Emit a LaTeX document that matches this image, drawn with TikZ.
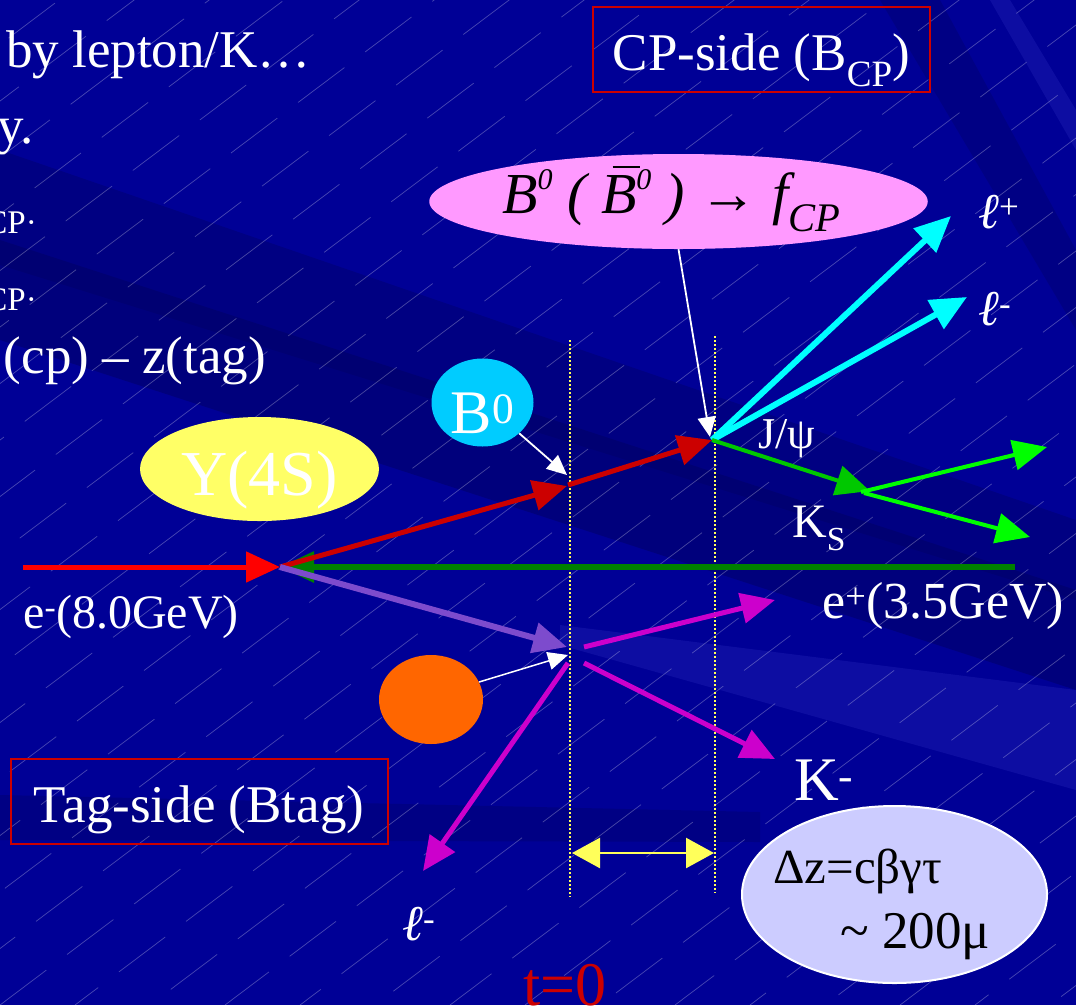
\documentclass[tikz,border=0pt]{standalone}
\usepackage{fontspec}
\setmainfont{Liberation Serif}
\definecolor{slidebg}{RGB}{0,0,150}
\definecolor{slidedark}{RGB}{0,0,100}
\definecolor{slidelight}{RGB}{45,45,190}
\definecolor{fcppink}{RGB}{255,153,255}
\definecolor{upsyel}{RGB}{255,255,102}
\definecolor{bzcyan}{RGB}{0,204,255}
\definecolor{tagorange}{RGB}{255,102,0}
\definecolor{dzlav}{RGB}{204,204,255}
\definecolor{trkred}{RGB}{204,0,0}
\definecolor{beamred}{RGB}{255,0,0}
\definecolor{beamgreen}{RGB}{0,128,0}
\definecolor{trkmag}{RGB}{204,0,204}
\definecolor{trkpur}{RGB}{125,75,205}
\definecolor{trkcyan}{RGB}{0,255,255}
\definecolor{trkgreen}{RGB}{0,200,0}
\definecolor{trklime}{RGB}{0,255,0}
\definecolor{dotyel}{RGB}{255,255,90}
\usetikzlibrary{arrows.meta,shapes.geometric,calc}
\newcommand{\fcpsup}{\raisebox{0.42em}{\fontsize{30}{30}\selectfont 0}}

\begin{document}
\begin{tikzpicture}[x=1pt,y=-1pt,
  lbl/.style={text=white,inner sep=0pt,font=\fontsize{53}{60}\selectfont},
  sidebox/.style={draw=trkred,line width=2pt,text=white,minimum height=85pt,
    text height=41pt,text depth=0pt,inner sep=0pt,font=\fontsize{53}{60}\selectfont},
  blob/.style={ellipse,inner sep=0pt,text depth=0pt},
  trk/.style={line width=5pt,-{Triangle[length=34pt,width=30pt]}},
  ptr/.style={draw=white,line width=1.8pt,-{Triangle[length=20pt,width=18pt]}},
  vdot/.style={draw=dotyel,line width=1.3pt,dash pattern=on 2pt off 2pt},
  hair/.style={draw=white,opacity=.28,line width=.7pt,dash pattern=on 58pt off 26pt}
]
\useasboundingbox (0,0) rectangle (1076,1005);
% background
\fill[slidebg] (0,0) rectangle (1076,1005);
\begin{scope}
  \clip (0,0) rectangle (1076,1005);
  \fill[slidedark,opacity=.4] (0,150) -- (1076,520) -- (1076,600) -- (0,265) -- cycle;
  \fill[slidedark,opacity=.5] (0,240) -- (1076,590) -- (1076,690) -- (0,340) -- cycle;
  \fill[slidedark,opacity=.35] (0,795) -- (760,812) -- (760,842) -- (0,840) -- cycle;
  \fill[slidedark,opacity=.35] (880,0) -- (940,0) -- (1076,250) -- (1076,330) -- cycle;
  \fill[slidelight,opacity=.3] (990,0) -- (1010,0) -- (1076,110) -- (1076,150) -- cycle;
  \fill[slidelight,opacity=.3] (560,625) -- (1076,690) -- (1076,790) -- (560,645) -- cycle;
  \foreach \k [evaluate=\k as \ph using {mod(abs(\k)*29,84)}] in {-19,...,15}
    \draw[hair,dash phase=\ph pt] (\k*75,1005) -- ++(1358,-1023);
\end{scope}

% left text lines
\node[lbl,anchor=base west] (ln1) at (6,67) {by lepton/K…};
\node[lbl,anchor=base east] (ln2) at (34,143) {y.};
\node[lbl,anchor=base east,font=\fontsize{33}{36}\selectfont] (ln3) at (37,233) {CP·};
\node[lbl,anchor=base east,font=\fontsize{33}{36}\selectfont] (ln4) at (37,310) {CP·};
\node[lbl,anchor=base east] (ln5) at (266,373) {(cp) – z(tag)};

% boxes
\node[sidebox,minimum width=337pt] (cpside) at (761.5,49.5) {CP-side (B\textsubscript{CP})};
\node[sidebox,minimum width=377pt] (tagside) at (199,801.5) {Tag-side (Btag)};

% blobs
\node[blob,fill=fcppink,minimum width=479pt,minimum height=95pt,text height=36pt,text depth=12pt,
  font=\fontsize{58}{62}\selectfont\itshape] (fcp) at (678.5,201.5)
  {B\fcpsup\ ( \makebox[0pt][l]{\hspace{0.2em}\rule[0.78em]{0.48em}{2pt}}B\fcpsup\ ) → f\textsubscript{CP}\hspace*{14pt}};
\node[blob,fill=upsyel,text=white,minimum width=239pt,minimum height=104pt,text height=52pt,
  font=\fontsize{64}{70}\selectfont] (ups) at (259.5,469) {Y(4S)};
\node[blob,fill=bzcyan,text=white,minimum width=102pt,minimum height=88pt,text height=61pt,
  font=\fontsize{62}{66}\selectfont] (bz) at (482.5,402.5) {B\textsuperscript{0}};
\node[blob,fill=tagorange,minimum width=104pt,minimum height=89pt] (btag) at (431,699.5) {};
\node[blob,fill=dzlav,draw=white,line width=2pt,minimum width=305pt,minimum height=177pt] (dz) at (894.5,894.5) {};
\node[anchor=base west,inner sep=0pt,font=\fontsize{49}{52}\selectfont] (dzt1) at (773,883) {Δz=cβγτ};
\node[anchor=base west,inner sep=0pt,font=\fontsize{53}{58}\selectfont] (dzt2) at (840,948) {\textasciitilde{} 200μ};

% vertices and track ends
\coordinate (ip) at (280,567);
\coordinate (vbz) at (568,485);
\coordinate (vcp) at (712,440);
\coordinate (vtag) at (569,650);
\coordinate (vks) at (870,491);
\coordinate (emin) at (23,567);
\coordinate (epin) at (1015,567);
\coordinate (lpend) at (951,216);
\coordinate (lmend) at (967,297);
\coordinate (pione) at (1047,447);
\coordinate (pitwo) at (1030,537);
\coordinate (tagone) at (775,600);
\coordinate (kend) at (775,759);
\coordinate (ltag) at (423,871);
\coordinate (dzl) at (572,853);
\coordinate (dzr) at (714,853);

% decay-time guides
\draw[vdot] (570,340) -- (570,897);
\draw[vdot] (715,336) -- (715,893);
\draw[draw=dotyel,line width=2.5pt,{Triangle[length=28pt,width=30pt]}-{Triangle[length=28pt,width=30pt]}] (dzl) -- (dzr);

% beams
\draw[trk,beamgreen,line width=6pt] (epin) -- (ip);
\draw[trk,beamred] (emin) -- (ip);
% B mesons
\draw[trk,trkred] (ip) -- ($(vbz)+(-1,1)$);
\draw[trk,trkred] (vbz) -- (vcp);
\draw[trk,trkpur,line width=6pt] (ip) -- ($(vtag)+(-2,-3)$);
% CP side
\draw[trk,trkcyan,line width=6pt,-{Triangle[length=36pt,width=32pt]}] (vcp) -- (lpend);
\draw[trk,trkcyan,line width=6pt,-{Triangle[length=36pt,width=32pt]}] (vcp) -- (lmend);
\draw[trk,trkgreen,line width=4pt] (vcp) -- (vks);
\draw[trk,trklime,line width=4pt] ($(vks)+(-9,1)$) -- (pione);
\draw[trk,trklime,line width=4pt] ($(vks)+(-6,2)$) -- (pitwo);
% tag side
\draw[trk,trkmag] ($(vtag)+(15,-3)$) -- (tagone);
\draw[trk,trkmag] ($(vtag)+(15,13)$) -- (kend);
\draw[trk,trkmag] ($(vtag)+(-1,13)$) -- (ltag);

% pointers
\draw[ptr] (fcp.south) -- ($(vcp)+(-2,-3)$);
\draw[ptr] (bz.-40) -- ($(vbz)+(-1,-10)$);
\draw[ptr,line width=1.5pt] (btag.20) -- ($(vtag)+(-1,5)$);

% labels
\node[lbl,anchor=base west,font=\fontsize{50}{54}\selectfont\itshape] (lp) at (978,228) {ℓ\textsuperscript{\upshape +}};
\node[lbl,anchor=base west,font=\fontsize{50}{54}\selectfont\itshape] (lm) at (978,325) {ℓ\textsuperscript{\upshape -}};
\node[lbl,anchor=base west,font=\fontsize{50}{54}\selectfont\itshape] (lt) at (402,940) {ℓ\textsuperscript{\upshape -}};
\node[lbl,anchor=base west,font=\fontsize{44}{48}\selectfont] (jpsi) at (758,448) {J/ψ};
\node[lbl,anchor=base west,font=\fontsize{48}{52}\selectfont] (ks) at (792,537) {K\textsubscript{S}};
\node[lbl,anchor=base west,font=\fontsize{48}{52}\selectfont] (em) at (23,628) {e\textsuperscript{-}(8.0GeV)};
\node[lbl,anchor=base west,font=\fontsize{52}{56}\selectfont] (ep) at (822,618) {e\textsuperscript{+}(3.5GeV)};
\node[lbl,anchor=base west,font=\fontsize{62}{66}\selectfont] (km) at (794,800) {K\textsuperscript{-}};
\node[lbl,anchor=base,text=trkred,font=\fontsize{62}{66}\selectfont] (tzero) at (565,1005) {t=0};
\end{tikzpicture}
\end{document}
